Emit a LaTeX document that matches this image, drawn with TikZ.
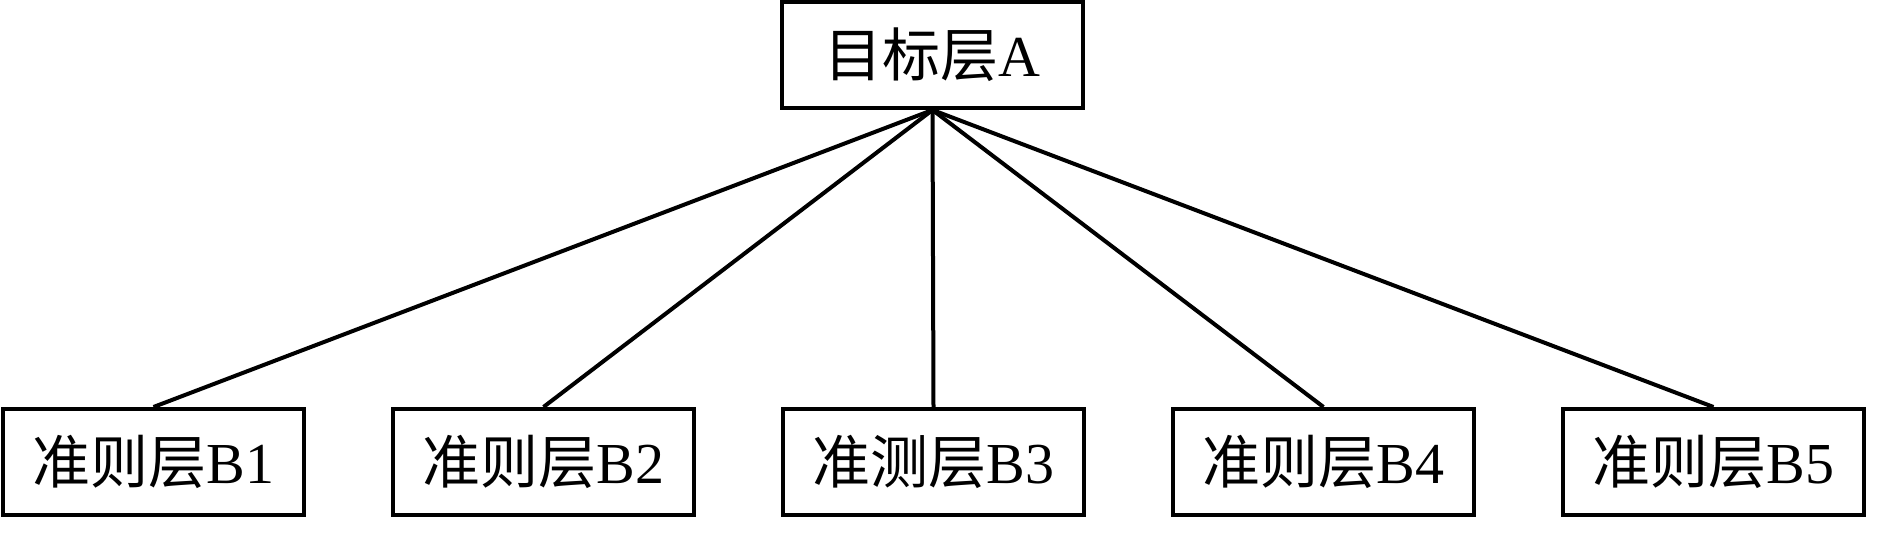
\documentclass[tikz,border=0pt]{standalone}
\usepackage{fontspec}
\setmainfont{Liberation Serif}
\newfontfamily\cjk{Noto Sans CJK SC}
\begin{document}
\begin{tikzpicture}[x=0.5pt,y=-0.5pt,
    layerBox/.style={draw,line width=2pt,minimum width=150.5pt,minimum height=53pt,
        inner sep=0pt,font=\fontsize{29}{29}\selectfont}]
\useasboundingbox (0,0) rectangle (1881,539);

\node[layerBox] (nA) at (932.5,55) {{\cjk 目标层}A};

\foreach \n/\x/\c/\s in
{nB1/153.5/准则层/B1,
    nB2/543.5/准则层/B2,
    nB3/933.5/准测层/B3,
    nB4/1323.5/准则层/B4,
    nB5/1713.5/准则层/B5
}
{
    \node[layerBox] (\n) at (\x,462) {{\cjk \c}\s};
    \draw[line width=2pt] (nA.south) -- (\n.north);
};

\end{tikzpicture}
\end{document}
